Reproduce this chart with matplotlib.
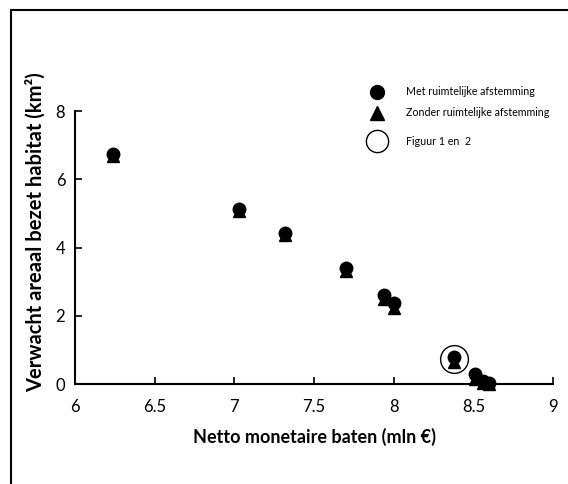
import matplotlib.pyplot as plt
from matplotlib.patches import Rectangle

plt.rcParams['font.family'] = ['Lato', 'DejaVu Sans']

# netto monetaire baten (mln euro)
baten = [6.24, 7.03, 7.32, 7.70, 7.94, 8.00, 8.38, 8.51, 8.56, 8.60]
# verwacht areaal (km2)
met = [6.74, 5.14, 4.44, 3.39, 2.60, 2.38, 0.78, 0.28, 0.10, 0.02]
zonder = [6.68, 5.08, 4.36, 3.30, 2.50, 2.24, 0.64, 0.16, 0.04, 0.0]
# figuur 1 en 2
fig_x = [8.38]
fig_y = [0.72]

xticks = [6, 6.5, 7, 7.5, 8, 8.5, 9]
yticks = [0, 2, 4, 6, 8]

labels = ['Met ruimtelijke afstemming', 'Zonder ruimtelijke afstemming', 'Figuur 1 en  2']
leg_y = [1.07, 0.993, 0.89]

fig = plt.figure(figsize=(5.68, 4.84), dpi=100)
ax = fig.add_axes([0.132, 0.2066, 0.842, 0.564])

ax.plot(baten, zonder, linestyle='none', marker='^', color='black', markersize=9, clip_on=False)
ax.plot(baten, met, linestyle='none', marker='o', color='black', markersize=9, clip_on=False)
ax.plot(fig_x, fig_y, linestyle='none', marker='o', markerfacecolor='none',
        markeredgecolor='black', markeredgewidth=1.0, markersize=20, clip_on=False)

ax.set_xlim(6, 9)
ax.set_ylim(0, 8)
ax.set_xticks(xticks)
ax.set_xticklabels(['6', '6.5', '7', '7.5', '8', '8.5', '9'])
ax.set_yticks(yticks)
ax.tick_params(direction='in', length=5, width=1.2, labelsize=12, pad=7)
ax.tick_params(axis='x', pad=11)
for s in ['top', 'right']:
    ax.spines[s].set_visible(False)
for s in ['left', 'bottom']:
    ax.spines[s].set_linewidth(1.5)

ax.set_xlabel('Netto monetaire baten (mln €)', fontsize=13, fontweight='bold', labelpad=9)
ax.set_ylabel('Verwacht areaal bezet habitat (km²)', fontsize=14.5, fontweight='bold')
ax.yaxis.set_label_coords(-0.062, 0.555)

# legenda
ax.plot([0.632], [leg_y[0]], transform=ax.transAxes, marker='o', color='black',
        markersize=10, clip_on=False)
ax.plot([0.632], [leg_y[1]], transform=ax.transAxes, marker='^', color='black',
        markersize=10, clip_on=False)
ax.plot([0.632], [leg_y[2]], transform=ax.transAxes, marker='o', markerfacecolor='none',
        markeredgecolor='black', markeredgewidth=1.0, markersize=16, clip_on=False)
for lab, yy in zip(labels, leg_y):
    ax.text(0.692, yy, lab, transform=ax.transAxes, fontsize=7.7, va='center', ha='left')

fig.add_artist(Rectangle((11 / 568, -0.1), 1.1, 1.1 - 10 / 484,
                         transform=fig.transFigure, fill=False, edgecolor='black',
                         linewidth=1.5))

fig.savefig('out.png', dpi=100)
